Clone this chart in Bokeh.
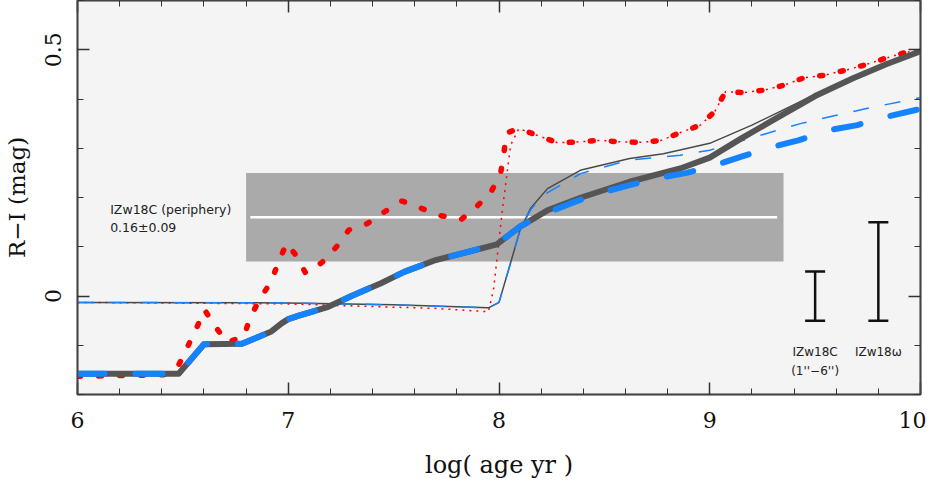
from bokeh.plotting import figure
from bokeh.models import (LinearAxis, SingleIntervalTicker, Whisker, ColumnDataSource,
                          TeeHead, Range1d)
from bokeh.core.properties import value
from bokeh.embed import file_html
from bokeh.resources import INLINE

# ---------------- data ----------------
# thick dark-grey solid model
thick_grey_x = [6.0, 6.48, 6.6, 6.78, 6.92, 6.97, 7.0, 7.05, 7.19, 7.3, 7.44, 7.55, 7.7, 7.83,
                7.99, 8.1, 8.23, 8.39, 8.62, 8.86, 9.0, 9.15, 9.3, 9.5, 9.68, 9.84, 10.0]
thick_grey_y = [-0.158, -0.158, -0.098, -0.097, -0.072, -0.055, -0.047, -0.04, -0.022, 0.0, 0.026,
                0.049, 0.073, 0.087, 0.105, 0.141, 0.174, 0.2, 0.232, 0.259, 0.281, 0.32, 0.357,
                0.406, 0.442, 0.471, 0.497]
# thick blue dashed model
thick_blue_x = [6.0, 6.48, 6.6, 6.78, 6.92, 6.97, 7.0, 7.05, 7.19, 7.3, 7.44, 7.55, 7.7, 7.83,
                7.99, 8.1, 8.2, 8.34, 8.47, 8.61, 8.75, 8.89, 9.03, 9.15, 9.3, 9.42, 9.57, 9.7,
                9.84, 10.0]
thick_blue_y = [-0.158, -0.158, -0.098, -0.097, -0.072, -0.055, -0.047, -0.04, -0.022, 0.0, 0.026,
                0.049, 0.073, 0.087, 0.105, 0.141, 0.164, 0.188, 0.208, 0.224, 0.239, 0.25, 0.266,
                0.283, 0.303, 0.316, 0.337, 0.347, 0.364, 0.38]
# thin grey solid model
thin_grey_x = [6.0, 7.0, 7.5, 7.95, 8.0, 8.05, 8.1, 8.15, 8.23, 8.39, 8.62, 8.78, 9.0, 9.2, 9.48,
               9.68, 9.84, 10.0]
thin_grey_y = [-0.013, -0.014, -0.018, -0.024, -0.013, 0.06, 0.134, 0.178, 0.218, 0.256, 0.279,
               0.289, 0.31, 0.347, 0.405, 0.442, 0.471, 0.497]
# thin blue dashed model
thin_blue_x = [6.0, 7.0, 7.5, 7.95, 8.0, 8.05, 8.1, 8.15, 8.21, 8.39, 8.62, 8.86, 9.0, 9.08, 9.27,
               9.43, 9.59, 9.75, 10.0]
thin_blue_y = [-0.013, -0.014, -0.018, -0.024, -0.013, 0.06, 0.134, 0.175, 0.205, 0.249, 0.276,
               0.286, 0.296, 0.306, 0.33, 0.35, 0.366, 0.381, 0.403]
# thin red dotted model
thin_red_x = [6.0, 7.0, 7.44, 7.69, 7.95, 7.975, 8.015, 8.055, 8.094, 8.189, 8.279, 8.379, 8.477,
              8.577, 8.675, 8.771, 8.861, 8.956, 9.024, 9.075, 9.162, 9.257, 9.352, 9.446, 9.541,
              9.639, 9.734, 9.829, 9.924, 10.0]
thin_red_y = [-0.013, -0.016, -0.022, -0.025, -0.032, 0.016, 0.171, 0.306, 0.34, 0.325, 0.311,
              0.313, 0.316, 0.313, 0.312, 0.316, 0.332, 0.347, 0.375, 0.415, 0.413, 0.418, 0.428,
              0.443, 0.448, 0.458, 0.469, 0.482, 0.494, 0.5]
# thick red dotted model
thick_red_x = [6.0, 6.41, 6.48, 6.52, 6.565, 6.603, 6.655, 6.71, 6.79, 6.82, 6.868, 6.919, 6.955,
               6.992, 7.036, 7.082, 7.16, 7.229, 7.287, 7.375, 7.457, 7.54, 7.632, 7.725, 7.822,
               7.893, 7.963, 8.007, 8.023, 8.035, 8.094, 8.189, 8.279, 8.379, 8.477, 8.577, 8.675,
               8.771, 8.861, 8.956, 9.024, 9.075, 9.162, 9.257, 9.352, 9.446, 9.541, 9.639, 9.734,
               9.829, 9.924, 10.0]
thick_red_y = [-0.163, -0.16, -0.14, -0.105, -0.065, -0.028, -0.063, -0.094, -0.082, -0.042,
               -0.005, 0.03, 0.07, 0.107, 0.083, 0.047, 0.068, 0.1, 0.134, 0.147, 0.171, 0.193,
               0.178, 0.163, 0.156, 0.181, 0.212, 0.247, 0.289, 0.331, 0.34, 0.325, 0.311, 0.313,
               0.316, 0.313, 0.312, 0.316, 0.332, 0.347, 0.375, 0.415, 0.413, 0.418, 0.428, 0.443,
               0.448, 0.458, 0.469, 0.482, 0.494, 0.5]

# observed periphery band
band_left = [6.8]
band_right = [9.35]
band_center = [0.16]
band_err = [0.09]
band_line_x0 = [6.82]
band_line_x1 = [9.32]

# error bars
err_x = [9.5, 9.8]
err_lo = [-0.05, -0.05]
err_hi = [0.05, 0.15]
err_labels = ["IZw18C", "IZw18\u03c9", "(1''\u22126'')"]
err_label_x = [9.5, 9.8, 9.5]
err_label_y = [-0.113, -0.113, -0.153]

note_text = ["IZw18C (periphery)", "0.16\u00b10.09"]
note_x = [6.155, 6.155]
note_y = [0.176, 0.139]

x_ticks_labels = {6: "6", 7: "7", 8: "8", 9: "9", 10: "10"}
y_ticks_labels = {0: "0", 0.5: "0.5"}

# ---------------- figure ----------------
BLUE = "#1582ff"
GREY = "#555555"
RED = "#ff0000"
SERIF = "DejaVu Serif"
SANS = "DejaVu Sans"

p = figure(frame_width=843, frame_height=394, x_range=Range1d(6, 10), y_range=Range1d(-0.2, 0.6),
           output_backend="svg", toolbar_location=None,
           min_border_left=77, min_border_right=6, min_border_top=0, min_border_bottom=0)
p.title.visible = False
p.background_fill_color = "#f4f4f4"
p.border_fill_color = "white"
p.outline_line_color = "#666666"
p.outline_line_width = 2
p.grid.visible = False

xt = SingleIntervalTicker(interval=1, num_minor_ticks=5)
yt = SingleIntervalTicker(interval=0.5, num_minor_ticks=5)


def style_axis(ax, labels=True):
    ax.major_tick_in = 12
    ax.major_tick_out = 0
    ax.minor_tick_in = 6
    ax.minor_tick_out = 0
    ax.major_tick_line_color = "#333333"
    ax.minor_tick_line_color = "#333333"
    ax.major_tick_line_width = 1.5
    ax.minor_tick_line_width = 1
    ax.axis_line_color = "#444444"
    ax.axis_line_width = 1.5
    if labels:
        ax.major_label_text_font = SERIF
        ax.major_label_text_font_size = "22px"
        ax.major_label_text_color = "#111111"
        ax.axis_label_text_font = SERIF
        ax.axis_label_text_font_size = "23px"
        ax.axis_label_text_font_style = "normal"
        ax.axis_label_text_color = "#111111"
    else:
        ax.major_label_text_font_size = "1px"
        ax.major_label_text_color = None
        ax.major_label_standoff = 0


p.xaxis.ticker = xt
p.yaxis.ticker = yt
style_axis(p.xaxis[0])
style_axis(p.yaxis[0])
p.xaxis.major_label_overrides = x_ticks_labels
p.yaxis.major_label_overrides = y_ticks_labels
p.xaxis.axis_label = "log( age yr )"
p.yaxis.axis_label = "R\u2212I (mag)"
p.xaxis.axis_label_text_font_size = "24px"
p.yaxis.major_label_orientation = "parallel"
p.xaxis.major_label_standoff = 17
p.xaxis.axis_label_standoff = 20
p.yaxis.major_label_standoff = 17
p.yaxis.axis_label_standoff = 12

top_ax = LinearAxis(ticker=SingleIntervalTicker(interval=1, num_minor_ticks=5))
style_axis(top_ax, labels=False)
p.add_layout(top_ax, "above")
right_ax = LinearAxis(ticker=SingleIntervalTicker(interval=0.5, num_minor_ticks=5))
style_axis(right_ax, labels=False)
p.add_layout(right_ax, "right")

# band
band_bottom = [c - e for c, e in zip(band_center, band_err)]
band_top = [c + e for c, e in zip(band_center, band_err)]
p.quad(left=band_left, right=band_right, bottom=band_bottom, top=band_top,
       fill_color="#aaaaaa", line_color=None)
p.segment(x0=band_line_x0, x1=band_line_x1, y0=band_center, y1=band_center,
          line_color="white", line_width=2.5)

# model curves
p.line(thin_red_x, thin_red_y, line_color=RED, line_width=1.5, line_dash="2 5")
p.line(thick_red_x, thick_red_y, line_color=RED, line_width=5.5, line_dash="3 18",
       line_cap="round")
p.line(thin_grey_x, thin_grey_y, line_color="#4a4a4a", line_width=1.5)
p.line(thin_blue_x, thin_blue_y, line_color=BLUE, line_width=1.5, line_dash="16 16")
p.line(thick_grey_x, thick_grey_y, line_color=GREY, line_width=6, line_join="round")
p.line(thick_blue_x, thick_blue_y, line_color=BLUE, line_width=6, line_dash="27 31",
       line_cap="round", line_join="round")

# error bars
src = ColumnDataSource(dict(x=err_x, lo=err_lo, hi=err_hi))
p.add_layout(Whisker(source=src, base="x", lower="lo", upper="hi", dimension="height",
                     line_color="#111111", line_width=2.5,
                     upper_head=TeeHead(size=20, line_width=2.5, line_color="#111111"),
                     lower_head=TeeHead(size=20, line_width=2.5, line_color="#111111")))

p.text(x=err_label_x, y=err_label_y, text=err_labels, text_font=value(SANS),
       text_font_size="12px", text_align="center", text_baseline="middle", text_color="#222222")
p.text(x=note_x, y=note_y, text=note_text, text_font=value(SANS),
       text_font_size="12.5px", text_align="left", text_baseline="middle", text_color="#222222")

open("out.html", "w").write(file_html(p, INLINE))
